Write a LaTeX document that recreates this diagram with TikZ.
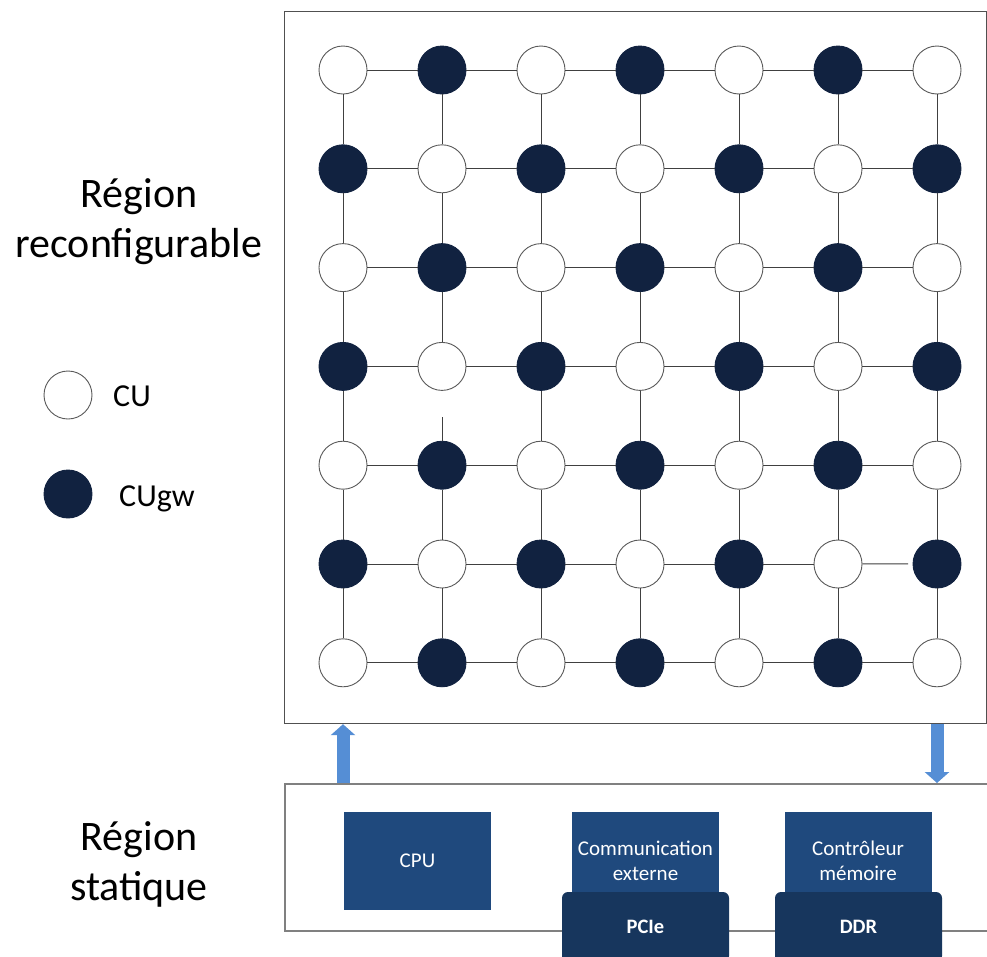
\documentclass[tikz,border=0pt]{standalone}
\usepackage{fontspec}
\setmainfont{Carlito}
\usetikzlibrary{arrows.meta}
\definecolor{cunavy}{RGB}{17,34,64}
\definecolor{boxblue}{RGB}{31,73,125}
\definecolor{boxdark}{RGB}{23,54,93}
\definecolor{arrowblue}{RGB}{85,142,213}
\definecolor{linegray}{RGB}{64,64,64}
\definecolor{ringgray}{RGB}{90,90,90}
\definecolor{framedark}{RGB}{80,80,80}
\definecolor{framegray}{RGB}{128,128,128}
\begin{document}
\begin{tikzpicture}[x=1pt,y=-1pt,
  cu/.style={circle,minimum size=48pt,inner sep=0pt,line width=0.9pt},
  link/.style={draw=linegray,line width=1pt},
  frame/.style={anchor=north west,inner sep=0pt},
  unit/.style={fill=boxblue,minimum width=147pt,minimum height=98pt,inner sep=0pt,
    text=white,align=center,font=\fontsize{21}{25}\selectfont},
  port/.style={fill=boxdark,rounded corners=6pt,minimum width=167pt,minimum height=70pt,
    inner sep=0pt,text=white,font=\fontsize{20.5}{25}\selectfont\bfseries},
  flow/.style={draw=arrowblue,line width=13pt,-{Triangle[width=24pt,length=11pt]}},
  region/.style={align=center,font=\fontsize{42}{50}\selectfont},
  legend/.style={anchor=base west,inner sep=0pt,font=\fontsize{32}{38}\selectfont}
]
\clip (0,0) rectangle (987,956);
\fill[white] (0,0) rectangle (987,956);

% frames
\node[frame,draw=framedark,line width=1.2pt,minimum width=701.5pt,minimum height=712pt] (recon) at (284,11) {};
\node[frame,draw=framegray,line width=1.8pt,minimum width=720pt,minimum height=147pt] (static) at (284,783) {};

% grid of units
\foreach \i in {0,...,6}{
  \foreach \j in {0,...,6}{
    \pgfmathtruncatemacro\parity{mod(\i+\j,2)}
    \ifnum\parity=0
      \node[cu,fill=white,draw=ringgray] (c-\i-\j) at ({343+99*\j},{70+98.8*\i}) {};
    \else
      \node[cu,fill=cunavy,draw=cunavy] (c-\i-\j) at ({343+99*\j},{70+98.8*\i}) {};
    \fi
  }
}

% horizontal links
\foreach \i in {0,...,6}{
  \foreach \j in {0,...,5}{
    \pgfmathtruncatemacro\nextj{\j+1}
    \pgfmathtruncatemacro\noedge{(\i==5)&&(\j==5)}
    \ifnum\noedge=0 \draw[link] (c-\i-\j) -- (c-\i-\nextj);\fi
  }
}
% vertical links
\foreach \i in {0,...,5}{
  \foreach \j in {0,...,6}{
    \pgfmathtruncatemacro\nexti{\i+1}
    \pgfmathtruncatemacro\noedge{(\i==3)&&(\j==1)}
    \ifnum\noedge=0 \draw[link] (c-\i-\j) -- (c-\nexti-\j);\fi
  }
}
\coordinate (stub) at (442,417);
\draw[link] (stub) -- (c-4-1);
\coordinate (shortend) at (908,563.8);
\draw[link] (c-5-5) -- (shortend);

% region labels
\node[region] (lrecon) at (139,222) {Région\\reconfigurable};
\node[region] (lstatic) at (139,864) {Région\\statique};

% legend
\node[cu,fill=white,draw=ringgray] (legcu) at (68,395) {};
\node[cu,fill=cunavy,draw=cunavy] (legcugw) at (68,494) {};
\node[legend] (tcu) at (113,406) {CU};
\node[legend] (tcugw) at (119,506) {CUgw};

% static region blocks
\node[unit] (cpu) at (417.5,861) {CPU};
\node[unit] (comm) at (645.5,861) {Communication\\externe};
\node[unit] (ctrl) at (858,861) {Contrôleur\\mémoire};
\node[port] (pcie) at (645.5,927) {PCIe};
\node[port] (ddr) at (858.5,927) {DDR};

% arrows between regions
\draw[flow] (static.north -| c-6-0) -- (recon.south -| c-6-0);
\draw[flow] (recon.south -| c-6-6) -- (static.north -| c-6-6);
\end{tikzpicture}
\end{document}
